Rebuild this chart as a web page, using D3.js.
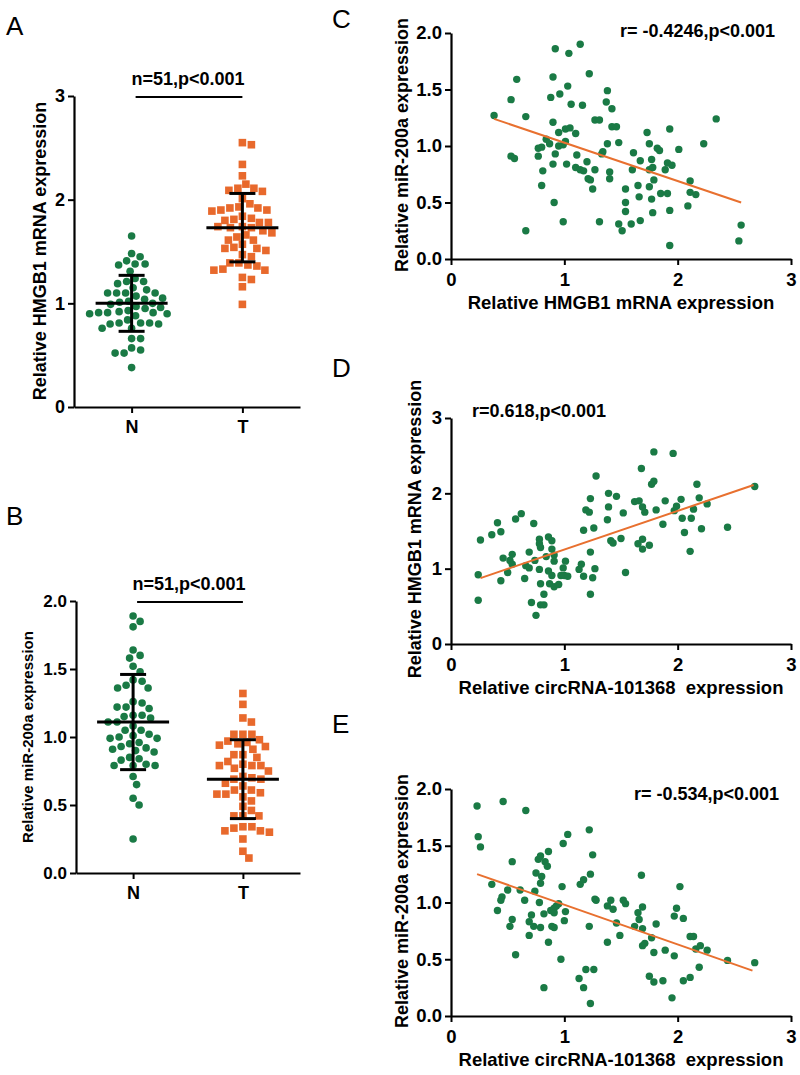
<!DOCTYPE html>
<html><head><meta charset="utf-8">
<script src="https://cdn.jsdelivr.net/npm/d3@7"></script>
<style>
body{margin:0;background:#fff;}
svg{display:block;}
text{font-family:'Liberation Sans',Arial,Helvetica,sans-serif;}
</style></head>
<body><svg id="fig" width="800" height="1075"></svg>
<script>
// ---------- DATA ----------
const groups = ["N", "T"];
const aN = [1.65,1.48,1.45,1.41,1.38,1.38,1.37,1.31,1.24,1.21,1.21,1.19,1.15,1.13,1.10,1.10,1.10,1.10,1.07,1.05,1.04,1.02,1.01,1.00,0.99,0.97,0.96,0.95,0.93,0.92,0.91,0.91,0.91,0.90,0.90,0.88,0.84,0.81,0.81,0.81,0.80,0.80,0.76,0.76,0.66,0.66,0.57,0.55,0.52,0.52,0.38];
const aT = [2.55,2.53,2.34,2.23,2.15,2.11,2.11,2.09,2.08,2.01,1.96,1.93,1.92,1.92,1.90,1.90,1.89,1.84,1.82,1.81,1.80,1.78,1.78,1.74,1.74,1.73,1.73,1.70,1.68,1.66,1.64,1.61,1.61,1.57,1.54,1.53,1.53,1.51,1.47,1.45,1.39,1.39,1.37,1.36,1.33,1.32,1.32,1.25,1.23,1.16,0.99];
const aMean = [1.00, 1.73];
const aSD = [0.27, 0.33];
const aTicks = [0, 1, 2, 3];

const bN = [1.89,1.85,1.81,1.64,1.60,1.58,1.52,1.48,1.42,1.41,1.38,1.36,1.36,1.26,1.25,1.22,1.22,1.21,1.16,1.16,1.15,1.14,1.11,1.11,1.08,1.05,1.05,1.02,1.01,1.00,0.99,0.99,0.96,0.95,0.93,0.92,0.91,0.90,0.89,0.85,0.84,0.83,0.80,0.79,0.79,0.79,0.71,0.65,0.55,0.50,0.25];
const bT = [1.32,1.24,1.14,1.11,1.02,1.02,1.02,0.98,0.97,0.96,0.95,0.94,0.93,0.91,0.87,0.87,0.85,0.82,0.80,0.79,0.79,0.79,0.77,0.75,0.71,0.70,0.69,0.69,0.66,0.64,0.61,0.61,0.59,0.58,0.58,0.56,0.53,0.49,0.46,0.42,0.42,0.42,0.34,0.34,0.33,0.31,0.31,0.30,0.25,0.16,0.11];
const bMean = [1.11, 0.69];
const bSD = [0.35, 0.29];
const bTicks = [0, 0.5, 1.0, 1.5, 2.0];

const cPts = [[0.38,1.27],[0.53,1.41],[0.58,1.59],[0.66,1.26],[0.53,0.91],[0.56,0.89],[0.66,0.25],[0.90,1.61],[0.92,1.86],[0.88,1.43],[0.96,1.46],[1.04,1.82],[1.14,1.90],[1.03,1.53],[1.06,1.37],[1.16,1.36],[1.22,1.64],[0.90,1.21],[0.95,1.12],[1.01,1.15],[1.05,1.16],[1.10,1.11],[1.27,1.23],[1.31,1.23],[1.38,1.49],[1.37,1.39],[1.42,1.33],[1.42,1.17],[1.46,1.17],[0.84,1.06],[0.87,1.02],[0.80,0.99],[0.77,0.98],[0.77,0.91],[0.92,0.93],[0.95,1.00],[0.99,1.01],[1.01,1.04],[0.90,0.84],[1.02,0.84],[1.11,0.92],[1.10,0.81],[1.14,0.79],[1.17,0.78],[1.20,0.86],[0.81,0.78],[0.80,0.65],[0.91,0.50],[0.99,0.33],[1.21,0.71],[1.23,0.70],[1.27,0.79],[1.25,0.62],[1.31,0.33],[1.33,0.93],[1.34,0.95],[1.38,1.02],[1.40,0.77],[1.40,0.71],[1.48,1.03],[1.48,0.31],[1.51,0.25],[1.54,0.62],[1.54,0.50],[1.54,0.42],[1.59,0.31],[1.61,0.94],[1.60,0.79],[1.65,0.65],[1.66,0.55],[1.67,0.34],[1.67,0.87],[1.73,1.12],[1.75,1.02],[1.75,0.79],[1.75,0.64],[1.77,0.88],[1.78,0.81],[1.77,0.53],[1.78,0.41],[1.79,0.70],[1.82,0.98],[1.84,0.96],[1.85,0.58],[1.89,0.79],[1.91,0.85],[1.91,0.58],[1.95,0.83],[1.93,1.15],[1.93,0.43],[1.93,0.12],[2.01,0.97],[2.09,0.47],[2.11,0.69],[2.11,0.59],[2.16,0.57],[2.23,1.02],[2.34,1.24],[2.54,0.16],[2.56,0.30]];
const cFit = [[0.38,1.24],[2.56,0.50]];
const cTicksX = [0, 1, 2, 3];
const cTicksY = [0, 0.5, 1.0, 1.5, 2.0];

const dPts = [[0.24,0.92],[0.24,0.58],[0.26,1.38],[0.36,1.45],[0.41,1.61],[0.44,1.49],[0.46,1.14],[0.44,0.84],[0.50,0.95],[0.52,1.11],[0.54,1.19],[0.54,1.06],[0.57,1.66],[0.62,1.73],[0.65,0.87],[0.66,1.04],[0.69,1.01],[0.69,1.22],[0.71,0.55],[0.73,1.60],[0.74,1.11],[0.75,0.38],[0.78,1.39],[0.78,1.33],[0.79,1.28],[0.78,0.99],[0.79,0.80],[0.79,0.52],[0.82,0.66],[0.82,0.52],[0.84,1.16],[0.86,1.42],[0.89,1.37],[0.89,1.26],[0.86,0.97],[0.87,0.80],[0.89,0.91],[0.91,1.10],[0.91,1.18],[0.91,0.76],[0.95,0.79],[0.97,0.91],[0.99,1.01],[1.01,1.10],[1.00,0.91],[1.03,0.90],[1.13,0.99],[1.15,1.06],[1.17,0.90],[1.17,1.51],[1.19,1.78],[1.22,1.75],[1.23,1.93],[1.23,1.22],[1.23,0.66],[1.26,1.54],[1.25,0.88],[1.27,1.00],[1.28,2.23],[1.39,2.00],[1.39,1.82],[1.38,1.65],[1.41,1.37],[1.43,1.34],[1.46,1.96],[1.50,1.40],[1.52,1.74],[1.54,0.95],[1.62,1.89],[1.66,1.90],[1.68,2.33],[1.65,1.33],[1.69,1.39],[1.69,1.26],[1.69,1.82],[1.71,1.75],[1.75,1.31],[1.77,2.12],[1.79,2.16],[1.79,2.55],[1.81,1.78],[1.87,1.59],[1.89,1.90],[1.96,2.53],[1.97,1.77],[1.99,1.83],[2.03,1.92],[2.04,1.67],[2.06,1.48],[2.12,1.67],[2.11,1.23],[2.14,1.79],[2.17,2.12],[2.19,1.94],[2.21,1.53],[2.26,1.86],[2.44,1.55],[2.68,2.09]];
const dFit = [[0.26,0.875],[2.67,2.11]];
const dTicksX = [0, 1, 2, 3];
const dTicksY = [0, 1, 2, 3];

const ePts = [[0.23,1.85],[0.24,1.58],[0.26,1.49],[0.46,1.89],[0.66,1.81],[0.36,1.16],[0.41,0.93],[0.44,1.02],[0.45,1.05],[0.50,1.11],[0.52,0.79],[0.54,0.85],[0.54,1.36],[0.57,0.54],[0.61,1.11],[0.65,1.02],[0.69,0.71],[0.69,0.83],[0.71,0.89],[0.73,0.79],[0.74,1.10],[0.75,1.26],[0.77,1.38],[0.79,1.41],[0.78,1.00],[0.79,0.78],[0.80,1.23],[0.79,1.17],[0.82,0.25],[0.82,0.90],[0.83,1.36],[0.85,1.32],[0.86,1.45],[0.86,0.65],[0.88,0.93],[0.91,0.95],[0.91,0.91],[0.89,0.79],[0.91,0.78],[0.93,0.97],[0.95,0.99],[0.97,0.50],[0.98,1.14],[0.99,1.52],[1.00,0.84],[1.01,0.92],[1.03,1.60],[1.13,0.33],[1.14,1.16],[1.17,1.20],[1.17,0.25],[1.19,0.41],[1.22,1.64],[1.23,1.25],[1.22,0.79],[1.23,0.11],[1.25,1.42],[1.26,0.41],[1.27,1.03],[1.28,1.02],[1.38,0.97],[1.38,0.65],[1.41,1.02],[1.43,0.94],[1.46,0.82],[1.49,0.71],[1.52,1.02],[1.54,0.99],[1.62,0.79],[1.65,0.91],[1.66,0.85],[1.68,1.24],[1.69,0.96],[1.69,0.77],[1.69,0.62],[1.71,0.64],[1.75,0.35],[1.77,0.69],[1.79,0.30],[1.79,0.56],[1.81,0.81],[1.87,0.31],[1.89,0.58],[1.95,0.16],[1.97,0.88],[1.97,0.53],[1.99,0.95],[2.02,1.14],[2.05,0.86],[2.05,0.31],[2.11,0.70],[2.14,0.70],[2.11,0.34],[2.16,0.59],[2.19,0.43],[2.20,0.62],[2.26,0.58],[2.44,0.49],[2.68,0.47]];
const eFit = [[0.23,1.25],[2.66,0.40]];
const eTicksX = [0, 1, 2, 3];
const eTicksY = [0, 0.5, 1.0, 1.5, 2.0];

// ---------- STYLE ----------
const GREEN = "#1a7a45";
const ORANGE = "#e8692c";
const LINE_OR = "#e8702f";
const svg = d3.select("#fig");
svg.append("rect").attr("width", 800).attr("height", 1075).attr("fill", "#fff");

function styleAxis(g, fs) {
  g.select(".domain").attr("stroke", "#000").attr("stroke-width", 2.2);
  g.selectAll(".tick line").attr("stroke", "#000").attr("stroke-width", 2);
  g.selectAll(".tick text").attr("fill", "#000").attr("font-size", fs)
    .attr("font-weight", "bold").attr("font-family", "'Liberation Sans',Arial,sans-serif");
}

function txt(x, y, s, opt = {}) {
  const t = svg.append("text").attr("x", x).attr("y", y).text(s)
    .attr("font-size", opt.fs || 18).attr("font-weight", opt.fw || "bold")
    .attr("text-anchor", opt.anchor || "middle").attr("fill", "#000")
    .style("white-space", "pre");
  if (opt.rot) t.attr("transform", `rotate(-90,${x},${y})`);
  return t;
}

// beeswarm layout computed from values
function swarm(values, yS, cx, d) {
  const pts = values.map(v => ({ v, y: yS(v) })).sort((a, b) => a.y - b.y);
  const placed = [];
  pts.forEach(p => {
    let best = null;
    for (let k = 0; k < 400 && best === null; k++) {
      const offs = k === 0 ? [0] : [k * 0.5, -k * 0.5];
      for (const o of offs) {
        const x = cx + o;
        if (placed.every(q => (q.x - x) ** 2 + (q.y - p.y) ** 2 >= d * d)) { best = x; break; }
      }
    }
    p.x = best;
    placed.push(p);
  });
  return pts;
}

function dotPanel(cfg) {
  const x = d3.scalePoint().domain(groups).range([cfg.x0, cfg.x1]).padding(0.52);
  const y = d3.scaleLinear().domain(cfg.yDom).range([cfg.yb, cfg.yt]);
  const gy = svg.append("g").attr("transform", `translate(${cfg.x0},0)`)
    .call(d3.axisLeft(y).tickValues(cfg.ticks).tickFormat(cfg.fmt).tickSize(6).tickSizeOuter(0).tickPadding(3));
  styleAxis(gy, cfg.tfs);
  const gx = svg.append("g").attr("transform", `translate(0,${cfg.yb})`)
    .call(d3.axisBottom(x).tickSize(6).tickSizeOuter(0).tickPadding(7));
  styleAxis(gx, 18);
  const ptsN = swarm(cfg.nVals, y, x("N"), 8.8);
  const ptsT = swarm(cfg.tVals, y, x("T"), 9.0);
  svg.append("g").selectAll("circle").data(ptsN).join("circle")
    .attr("cx", d => d.x).attr("cy", d => d.y).attr("r", 3.8).attr("fill", GREEN);
  svg.append("g").selectAll("rect").data(ptsT).join("rect")
    .attr("x", d => d.x - 3.8).attr("y", d => d.y - 3.8).attr("width", 7.6).attr("height", 7.6).attr("fill", ORANGE);
  const eg = svg.append("g").attr("stroke", "#000").attr("stroke-width", 3);
  groups.forEach((g, i) => {
    const cx = x(g), m = cfg.mean[i], s = cfg.sd[i];
    eg.append("line").attr("x1", cx - 36).attr("x2", cx + 36).attr("y1", y(m)).attr("y2", y(m));
    eg.append("line").attr("x1", cx).attr("x2", cx).attr("y1", y(m - s)).attr("y2", y(m + s));
    [m - s, m + s].forEach(v => eg.append("line").attr("x1", cx - 13).attr("x2", cx + 13).attr("y1", y(v)).attr("y2", y(v)));
  });
  const top = y(cfg.yDom[1]);
  svg.append("line").attr("x1", x("N") + 4).attr("x2", x("T")).attr("y1", top + 1).attr("y2", top + 1)
    .attr("stroke", "#000").attr("stroke-width", 2);
  txt((x("N") + x("T")) / 2 + 1, top - 11, cfg.title, { fs: 18 });
  txt(cfg.ylx, cfg.yly, cfg.ylabel, { fs: cfg.ylfs, rot: true });
  txt(cfg.letterX, cfg.letterY, cfg.letter, { fs: 26, fw: "normal", anchor: "start" });
}

function scatterPanel(cfg) {
  const x = d3.scaleLinear().domain([0, 3]).range([451, 791]);
  const y = d3.scaleLinear().domain(cfg.yDom).range([cfg.yb, cfg.yt]);
  const gy = svg.append("g").attr("transform", `translate(451,0)`)
    .call(d3.axisLeft(y).tickValues(cfg.ticksY).tickFormat(cfg.fmt).tickSize(6).tickSizeOuter(0).tickPadding(3));
  styleAxis(gy, 18.5);
  const gx = svg.append("g").attr("transform", `translate(0,${cfg.yb})`)
    .call(d3.axisBottom(x).tickValues(cfg.ticksX).tickFormat(d3.format("d")).tickSize(6).tickSizeOuter(0).tickPadding(8));
  styleAxis(gx, 18.5);
  svg.append("g").selectAll("circle").data(cfg.pts).join("circle")
    .attr("cx", d => x(d[0])).attr("cy", d => y(d[1])).attr("r", 3.7).attr("fill", GREEN);
  svg.append("path").datum(cfg.fit)
    .attr("d", d3.line().x(d => x(d[0])).y(d => y(d[1])))
    .attr("stroke", LINE_OR).attr("stroke-width", 2).attr("fill", "none");
  txt(cfg.annX, cfg.annY, cfg.ann, { fs: 18, anchor: cfg.annAnchor });
  txt(621, cfg.yb + 50, cfg.xlabel, { fs: 18.5 });
  txt(cfg.ylx, cfg.yly, cfg.ylabel, { fs: 18, rot: true });
  txt(332, cfg.letterY, cfg.letter, { fs: 26, fw: "normal", anchor: "start" });
}

dotPanel({ x0: 74, x1: 300, yb: 407, yt: 96, yDom: [0, 3], ticks: aTicks, fmt: d3.format("d"), tfs: 18,
  nVals: aN, tVals: aT, mean: aMean, sd: aSD, title: "n=51,p<0.001",
  ylabel: "Relative HMGB1 mRNA expression", ylx: 46, yly: 251, ylfs: 18,
  letter: "A", letterX: 6, letterY: 35 });

dotPanel({ x0: 76, x1: 300, yb: 873, yt: 601, yDom: [0, 2], ticks: bTicks, fmt: d3.format(".1f"), tfs: 17,
  nVals: bN, tVals: bT, mean: bMean, sd: bSD, title: "n=51,p<0.001",
  ylabel: "Relative miR-200a expression", ylx: 33, yly: 737, ylfs: 15,
  letter: "B", letterX: 6, letterY: 525 });

scatterPanel({ yb: 259, yt: 33, yDom: [0, 2], ticksX: cTicksX, ticksY: cTicksY, fmt: d3.format(".1f"),
  pts: cPts, fit: cFit, ann: "r= -0.4246,p<0.001", annX: 775, annY: 37, annAnchor: "end",
  xlabel: "Relative HMGB1 mRNA expression", ylabel: "Relative miR-200a expression",
  ylx: 408, yly: 145, letter: "C", letterY: 28 });

scatterPanel({ yb: 644, yt: 418, yDom: [0, 3], ticksX: dTicksX, ticksY: dTicksY, fmt: d3.format("d"),
  pts: dPts, fit: dFit, ann: "r=0.618,p<0.001", annX: 472, annY: 417, annAnchor: "start",
  xlabel: "Relative circRNA-101368  expression", ylabel: "Relative HMGB1 mRNA expression",
  ylx: 421, yly: 529, letter: "D", letterY: 377 });

scatterPanel({ yb: 1016, yt: 789, yDom: [0, 2], ticksX: eTicksX, ticksY: eTicksY, fmt: d3.format(".1f"),
  pts: ePts, fit: eFit, ann: "r= -0.534,p<0.001", annX: 779, annY: 800, annAnchor: "end",
  xlabel: "Relative circRNA-101368  expression", ylabel: "Relative miR-200a expression",
  ylx: 408, yly: 901, letter: "E", letterY: 733 });
</script></body></html>
